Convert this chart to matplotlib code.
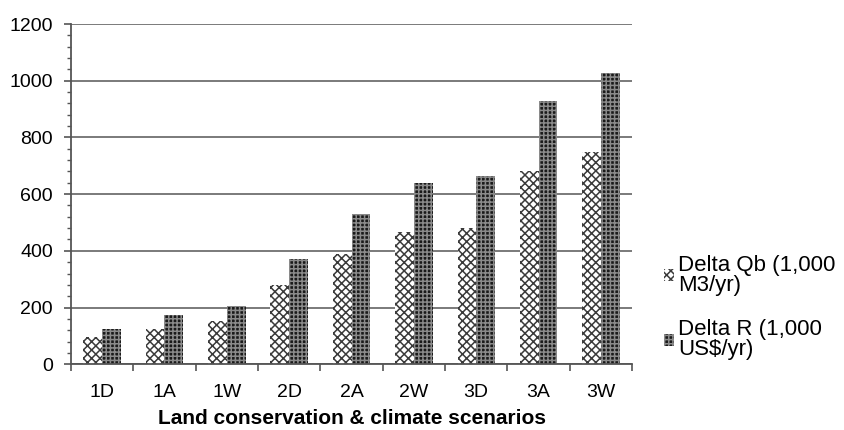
import numpy as np
import matplotlib.pyplot as plt
from matplotlib.ticker import MultipleLocator

plt.rcParams['font.family'] = ['Liberation Sans', 'DejaVu Sans']
plt.rcParams['hatch.linewidth'] = 1.1

# escenarios y valores
escenarios = ["1D", "1A", "1W", "2D", "2A", "2W", "3D", "3A", "3W"]
delta_qb = [95, 123, 151, 280, 390, 467, 481, 683, 748]
delta_r = [123, 172, 207, 371, 529, 641, 663, 930, 1026]

x = np.arange(len(escenarios))
ancho = 0.3

fig = plt.figure(figsize=(8.45, 4.30), dpi=100)
ax = fig.add_axes([0.084, 0.153, 0.664, 0.791])

ax.bar(x - ancho / 2, delta_qb, ancho, color="white", edgecolor="#3a3a3a",
       hatch="xxxx", linewidth=0, label="Delta Qb (1,000\nM3/yr)")
ax.bar(x + ancho / 2, delta_r, ancho, color="#1a1a1a", edgecolor="#8a8a8a",
       hatch="++++", linewidth=0, label="Delta R (1,000\nUS$/yr)")

ax.set_xlim(-0.5, len(escenarios) - 0.5)
ax.set_ylim(0, 1200)
ax.yaxis.set_major_locator(MultipleLocator(200))
ax.yaxis.set_minor_locator(MultipleLocator(40))
ax.grid(axis="y", color="#707070", linewidth=1.3)
ax.set_axisbelow(True)

ax.set_xticks(x)
ax.set_xticklabels(escenarios, fontsize=14)
ax.set_xticks(np.arange(-0.5, len(escenarios)), minor=True)
ax.tick_params(axis="x", which="major", length=0, pad=14)
ax.tick_params(axis="x", which="minor", length=5, width=1.2, color="#555555")
ax.tick_params(axis="y", which="major", length=5, width=1.2, color="#555555",
               labelsize=14, pad=8)
ax.tick_params(axis="y", which="minor", length=3, width=1, color="#555555")

for s in ["top", "right"]:
    ax.spines[s].set_visible(False)
for s in ["left", "bottom"]:
    ax.spines[s].set_color("#555555")
    ax.spines[s].set_linewidth(1.3)

ax.set_xlabel("Land conservation & climate scenarios", fontsize=15,
              fontweight="bold", labelpad=6)

leg = fig.legend(loc="center left", bbox_to_anchor=(0.762, 0.285), frameon=False,
                 fontsize=16, handlelength=0.45, handleheight=0.45,
                 handletextpad=0.2, labelspacing=1.05)
for t in leg.get_texts():
    t.set_linespacing(0.95)

fig.savefig("out.png", dpi=100)
